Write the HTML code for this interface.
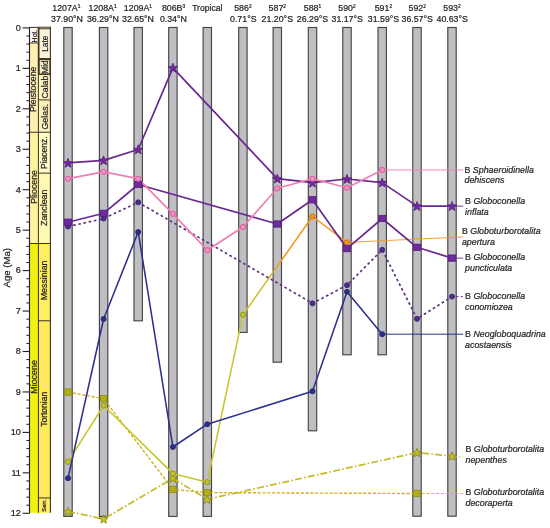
<!DOCTYPE html><html><head><meta charset="utf-8"><style>html,body{margin:0;padding:0;background:#fff}svg{display:block;will-change:transform}text{font-family:"Liberation Sans",sans-serif;fill:#231f20;stroke:#231f20;stroke-width:0.22px}</style></head><body>
<svg width="550" height="528" viewBox="0 0 550 528">
<rect width="550" height="528" fill="#ffffff"/>
<defs><linearGradient id="og" gradientUnits="userSpaceOnUse" x1="242.8" y1="314.8" x2="312.2" y2="216.5"><stop offset="0" stop-color="#c6c62a"/><stop offset="0.3" stop-color="#c6c62a"/><stop offset="0.6" stop-color="#f7941d"/><stop offset="1" stop-color="#f7941d"/></linearGradient></defs>
<rect x="29.5" y="27.40" width="8.90" height="104.86" fill="#fdf0b2"/>
<rect x="29.5" y="132.26" width="8.90" height="111.24" fill="#fff49e"/>
<rect x="29.5" y="243.50" width="8.90" height="269.30" fill="#f3f016"/>
<rect x="38.4" y="27.40" width="12.00" height="31.65" fill="#fdf3da"/>
<rect x="38.4" y="59.05" width="12.00" height="15.37" fill="#f6ecc4"/>
<rect x="38.4" y="74.42" width="12.00" height="25.48" fill="#fdf2c2"/>
<rect x="38.4" y="99.90" width="12.00" height="32.36" fill="#fdf0b8"/>
<rect x="38.4" y="132.26" width="12.00" height="40.85" fill="#fffbc6"/>
<rect x="38.4" y="173.12" width="12.00" height="70.38" fill="#fff9b4"/>
<rect x="38.4" y="243.50" width="12.00" height="77.26" fill="#ffee62"/>
<rect x="38.4" y="320.76" width="12.00" height="177.17" fill="#ffe95c"/>
<rect x="38.4" y="497.93" width="12.00" height="14.87" fill="#ffec60"/>
<rect x="29.5" y="27.4" width="8.90" height="15.6" fill="#fdf7ec" stroke="#3a3420" stroke-width="1"/>
<rect x="38.4" y="26.6" width="12.50" height="2.8" fill="#766f5a"/>
<line x1="38.4" y1="27.40" x2="38.4" y2="512.80" stroke="#3a3420" stroke-width="1"/>
<line x1="38.699999999999996" y1="27.40" x2="38.699999999999996" y2="74.30" stroke="#3a3420" stroke-width="1.6"/>
<line x1="50.4" y1="27.00" x2="50.4" y2="512.80" stroke="#3a3420" stroke-width="1.1"/>
<line x1="29.5" y1="132.26" x2="50.4" y2="132.26" stroke="#3a3420" stroke-width="1"/>
<line x1="29.5" y1="243.50" x2="50.4" y2="243.50" stroke="#3a3420" stroke-width="1"/>
<line x1="38.4" y1="99.90" x2="50.4" y2="99.90" stroke="#3a3420" stroke-width="1"/>
<line x1="38.4" y1="173.12" x2="50.4" y2="173.12" stroke="#3a3420" stroke-width="1"/>
<line x1="38.4" y1="320.76" x2="50.4" y2="320.76" stroke="#3a3420" stroke-width="1"/>
<line x1="38.4" y1="497.93" x2="50.4" y2="497.93" stroke="#3a3420" stroke-width="1"/>
<rect x="38.699999999999996" y="59.4" width="11.50" height="14.8" fill="none" stroke="#3a3420" stroke-width="1.5"/>
<line x1="38.4" y1="58.60" x2="50.4" y2="58.60" stroke="#3a3420" stroke-width="1"/>
<line x1="29.5" y1="27.4" x2="29.5" y2="513.3" stroke="#231f20" stroke-width="1.1"/>
<line x1="22.6" y1="27.90" x2="29.5" y2="27.90" stroke="#231f20" stroke-width="1.1"/>
<text x="20.9" y="30.70" font-size="9.1" text-anchor="end">0</text>
<line x1="26.3" y1="35.99" x2="29.5" y2="35.99" stroke="#231f20" stroke-width="1"/>
<line x1="26.3" y1="44.08" x2="29.5" y2="44.08" stroke="#231f20" stroke-width="1"/>
<line x1="26.3" y1="52.17" x2="29.5" y2="52.17" stroke="#231f20" stroke-width="1"/>
<line x1="26.3" y1="60.26" x2="29.5" y2="60.26" stroke="#231f20" stroke-width="1"/>
<line x1="22.6" y1="68.35" x2="29.5" y2="68.35" stroke="#231f20" stroke-width="1.1"/>
<text x="20.9" y="71.15" font-size="9.1" text-anchor="end">1</text>
<line x1="26.3" y1="76.44" x2="29.5" y2="76.44" stroke="#231f20" stroke-width="1"/>
<line x1="26.3" y1="84.53" x2="29.5" y2="84.53" stroke="#231f20" stroke-width="1"/>
<line x1="26.3" y1="92.62" x2="29.5" y2="92.62" stroke="#231f20" stroke-width="1"/>
<line x1="26.3" y1="100.71" x2="29.5" y2="100.71" stroke="#231f20" stroke-width="1"/>
<line x1="22.6" y1="108.80" x2="29.5" y2="108.80" stroke="#231f20" stroke-width="1.1"/>
<text x="20.9" y="111.60" font-size="9.1" text-anchor="end">2</text>
<line x1="26.3" y1="116.89" x2="29.5" y2="116.89" stroke="#231f20" stroke-width="1"/>
<line x1="26.3" y1="124.98" x2="29.5" y2="124.98" stroke="#231f20" stroke-width="1"/>
<line x1="26.3" y1="133.07" x2="29.5" y2="133.07" stroke="#231f20" stroke-width="1"/>
<line x1="26.3" y1="141.16" x2="29.5" y2="141.16" stroke="#231f20" stroke-width="1"/>
<line x1="22.6" y1="149.25" x2="29.5" y2="149.25" stroke="#231f20" stroke-width="1.1"/>
<text x="20.9" y="152.05" font-size="9.1" text-anchor="end">3</text>
<line x1="26.3" y1="157.34" x2="29.5" y2="157.34" stroke="#231f20" stroke-width="1"/>
<line x1="26.3" y1="165.43" x2="29.5" y2="165.43" stroke="#231f20" stroke-width="1"/>
<line x1="26.3" y1="173.52" x2="29.5" y2="173.52" stroke="#231f20" stroke-width="1"/>
<line x1="26.3" y1="181.61" x2="29.5" y2="181.61" stroke="#231f20" stroke-width="1"/>
<line x1="22.6" y1="189.70" x2="29.5" y2="189.70" stroke="#231f20" stroke-width="1.1"/>
<text x="20.9" y="192.50" font-size="9.1" text-anchor="end">4</text>
<line x1="26.3" y1="197.79" x2="29.5" y2="197.79" stroke="#231f20" stroke-width="1"/>
<line x1="26.3" y1="205.88" x2="29.5" y2="205.88" stroke="#231f20" stroke-width="1"/>
<line x1="26.3" y1="213.97" x2="29.5" y2="213.97" stroke="#231f20" stroke-width="1"/>
<line x1="26.3" y1="222.06" x2="29.5" y2="222.06" stroke="#231f20" stroke-width="1"/>
<line x1="22.6" y1="230.15" x2="29.5" y2="230.15" stroke="#231f20" stroke-width="1.1"/>
<text x="20.9" y="232.95" font-size="9.1" text-anchor="end">5</text>
<line x1="26.3" y1="238.24" x2="29.5" y2="238.24" stroke="#231f20" stroke-width="1"/>
<line x1="26.3" y1="246.33" x2="29.5" y2="246.33" stroke="#231f20" stroke-width="1"/>
<line x1="26.3" y1="254.42" x2="29.5" y2="254.42" stroke="#231f20" stroke-width="1"/>
<line x1="26.3" y1="262.51" x2="29.5" y2="262.51" stroke="#231f20" stroke-width="1"/>
<line x1="22.6" y1="270.60" x2="29.5" y2="270.60" stroke="#231f20" stroke-width="1.1"/>
<text x="20.9" y="273.40" font-size="9.1" text-anchor="end">6</text>
<line x1="26.3" y1="278.69" x2="29.5" y2="278.69" stroke="#231f20" stroke-width="1"/>
<line x1="26.3" y1="286.78" x2="29.5" y2="286.78" stroke="#231f20" stroke-width="1"/>
<line x1="26.3" y1="294.87" x2="29.5" y2="294.87" stroke="#231f20" stroke-width="1"/>
<line x1="26.3" y1="302.96" x2="29.5" y2="302.96" stroke="#231f20" stroke-width="1"/>
<line x1="22.6" y1="311.05" x2="29.5" y2="311.05" stroke="#231f20" stroke-width="1.1"/>
<text x="20.9" y="313.85" font-size="9.1" text-anchor="end">7</text>
<line x1="26.3" y1="319.14" x2="29.5" y2="319.14" stroke="#231f20" stroke-width="1"/>
<line x1="26.3" y1="327.23" x2="29.5" y2="327.23" stroke="#231f20" stroke-width="1"/>
<line x1="26.3" y1="335.32" x2="29.5" y2="335.32" stroke="#231f20" stroke-width="1"/>
<line x1="26.3" y1="343.41" x2="29.5" y2="343.41" stroke="#231f20" stroke-width="1"/>
<line x1="22.6" y1="351.50" x2="29.5" y2="351.50" stroke="#231f20" stroke-width="1.1"/>
<text x="20.9" y="354.30" font-size="9.1" text-anchor="end">8</text>
<line x1="26.3" y1="359.59" x2="29.5" y2="359.59" stroke="#231f20" stroke-width="1"/>
<line x1="26.3" y1="367.68" x2="29.5" y2="367.68" stroke="#231f20" stroke-width="1"/>
<line x1="26.3" y1="375.77" x2="29.5" y2="375.77" stroke="#231f20" stroke-width="1"/>
<line x1="26.3" y1="383.86" x2="29.5" y2="383.86" stroke="#231f20" stroke-width="1"/>
<line x1="22.6" y1="391.95" x2="29.5" y2="391.95" stroke="#231f20" stroke-width="1.1"/>
<text x="20.9" y="394.75" font-size="9.1" text-anchor="end">9</text>
<line x1="26.3" y1="400.04" x2="29.5" y2="400.04" stroke="#231f20" stroke-width="1"/>
<line x1="26.3" y1="408.13" x2="29.5" y2="408.13" stroke="#231f20" stroke-width="1"/>
<line x1="26.3" y1="416.22" x2="29.5" y2="416.22" stroke="#231f20" stroke-width="1"/>
<line x1="26.3" y1="424.31" x2="29.5" y2="424.31" stroke="#231f20" stroke-width="1"/>
<line x1="22.6" y1="432.40" x2="29.5" y2="432.40" stroke="#231f20" stroke-width="1.1"/>
<text x="20.9" y="435.20" font-size="9.1" text-anchor="end">10</text>
<line x1="26.3" y1="440.49" x2="29.5" y2="440.49" stroke="#231f20" stroke-width="1"/>
<line x1="26.3" y1="448.58" x2="29.5" y2="448.58" stroke="#231f20" stroke-width="1"/>
<line x1="26.3" y1="456.67" x2="29.5" y2="456.67" stroke="#231f20" stroke-width="1"/>
<line x1="26.3" y1="464.76" x2="29.5" y2="464.76" stroke="#231f20" stroke-width="1"/>
<line x1="22.6" y1="472.85" x2="29.5" y2="472.85" stroke="#231f20" stroke-width="1.1"/>
<text x="20.9" y="475.65" font-size="9.1" text-anchor="end">11</text>
<line x1="26.3" y1="480.94" x2="29.5" y2="480.94" stroke="#231f20" stroke-width="1"/>
<line x1="26.3" y1="489.03" x2="29.5" y2="489.03" stroke="#231f20" stroke-width="1"/>
<line x1="26.3" y1="497.12" x2="29.5" y2="497.12" stroke="#231f20" stroke-width="1"/>
<line x1="26.3" y1="505.21" x2="29.5" y2="505.21" stroke="#231f20" stroke-width="1"/>
<line x1="22.6" y1="513.30" x2="29.5" y2="513.30" stroke="#231f20" stroke-width="1.1"/>
<text x="20.9" y="516.10" font-size="9.1" text-anchor="end">12</text>
<text transform="translate(10.3,267.7) rotate(-90)" font-size="9.6" text-anchor="middle">Age (Ma)</text>
<text transform="translate(36.40,89.28) rotate(-90)" font-size="8.8" text-anchor="middle">Pleistocene</text>
<text transform="translate(36.90,186.88) rotate(-90)" font-size="8.8" text-anchor="middle">Pliocene</text>
<text transform="translate(36.50,376.95) rotate(-90)" font-size="8.9" text-anchor="middle">Miocene</text>
<text transform="translate(36.80,36.20) rotate(-90)" font-size="7.0" text-anchor="middle">Hol.</text>
<text transform="translate(47.70,43.70) rotate(-90)" font-size="8.3" text-anchor="middle">Late</text>
<text transform="translate(47.70,67.10) rotate(-90)" font-size="8.2" text-anchor="middle">Mid</text>
<text transform="translate(47.80,87.10) rotate(-90)" font-size="8.7" text-anchor="middle">Calab</text>
<text transform="translate(47.70,116.78) rotate(-90)" font-size="8.9" text-anchor="middle">Gelas.</text>
<text transform="translate(47.40,152.69) rotate(-90)" font-size="8.5" text-anchor="middle">Piacenz.</text>
<text transform="translate(47.40,207.81) rotate(-90)" font-size="8.85" text-anchor="middle">Zanclean</text>
<text transform="translate(47.40,280.40) rotate(-90)" font-size="8.85" text-anchor="middle">Messinian</text>
<text transform="translate(47.40,409.34) rotate(-90)" font-size="8.5" text-anchor="middle">Tortonian</text>
<text transform="translate(46.20,505.60) rotate(-90)" font-size="5.8" text-anchor="middle">Serr.</text>
<rect x="63.80" y="27.5" width="8.4" height="488.90" fill="#bfbfc3" stroke="#454547" stroke-width="1.15"/>
<rect x="99.40" y="27.5" width="8.4" height="488.90" fill="#bfbfc3" stroke="#454547" stroke-width="1.15"/>
<rect x="134.00" y="27.5" width="8.4" height="293.30" fill="#bfbfc3" stroke="#454547" stroke-width="1.15"/>
<rect x="168.70" y="27.5" width="8.4" height="488.90" fill="#bfbfc3" stroke="#454547" stroke-width="1.15"/>
<rect x="203.10" y="27.5" width="8.4" height="488.90" fill="#bfbfc3" stroke="#454547" stroke-width="1.15"/>
<rect x="238.70" y="27.5" width="8.4" height="304.90" fill="#bfbfc3" stroke="#454547" stroke-width="1.15"/>
<rect x="273.10" y="27.5" width="8.4" height="334.70" fill="#bfbfc3" stroke="#454547" stroke-width="1.15"/>
<rect x="308.30" y="27.5" width="8.4" height="403.30" fill="#bfbfc3" stroke="#454547" stroke-width="1.15"/>
<rect x="342.80" y="27.5" width="8.4" height="327.30" fill="#bfbfc3" stroke="#454547" stroke-width="1.15"/>
<rect x="378.00" y="27.5" width="8.4" height="327.30" fill="#bfbfc3" stroke="#454547" stroke-width="1.15"/>
<rect x="412.80" y="27.5" width="8.4" height="488.70" fill="#bfbfc3" stroke="#454547" stroke-width="1.15"/>
<rect x="447.80" y="27.5" width="8.4" height="488.70" fill="#bfbfc3" stroke="#454547" stroke-width="1.15"/>
<text x="66.30" y="11.4" font-size="8.8" text-anchor="middle">1207A<tspan font-size="4.8" dy="-3.2">1</tspan></text>
<text x="67.00" y="22.2" font-size="8.8" text-anchor="middle">37.90°N</text>
<text x="102.60" y="11.4" font-size="8.8" text-anchor="middle">1208A<tspan font-size="4.8" dy="-3.2">1</tspan></text>
<text x="102.90" y="22.2" font-size="8.8" text-anchor="middle">36.29°N</text>
<text x="137.90" y="11.4" font-size="8.8" text-anchor="middle">1209A<tspan font-size="4.8" dy="-3.2">1</tspan></text>
<text x="138.00" y="22.2" font-size="8.8" text-anchor="middle">32.65°N</text>
<text x="173.50" y="11.4" font-size="8.8" text-anchor="middle">806B<tspan font-size="4.8" dy="-3.2">3</tspan></text>
<text x="173.40" y="22.2" font-size="8.8" text-anchor="middle">0.34°N</text>
<text x="207.30" y="11.4" font-size="8.6" text-anchor="middle">Tropical</text>
<text x="242.90" y="11.4" font-size="8.8" text-anchor="middle">586<tspan font-size="4.8" dy="-3.2">2</tspan></text>
<text x="243.30" y="22.2" font-size="8.8" text-anchor="middle">0.71°S</text>
<text x="277.30" y="11.4" font-size="8.8" text-anchor="middle">587<tspan font-size="4.8" dy="-3.2">2</tspan></text>
<text x="277.30" y="22.2" font-size="8.8" text-anchor="middle">21.20°S</text>
<text x="312.50" y="11.4" font-size="8.8" text-anchor="middle">588<tspan font-size="4.8" dy="-3.2">1</tspan></text>
<text x="312.50" y="22.2" font-size="8.8" text-anchor="middle">26.29°S</text>
<text x="347.00" y="11.4" font-size="8.8" text-anchor="middle">590<tspan font-size="4.8" dy="-3.2">2</tspan></text>
<text x="347.20" y="22.2" font-size="8.8" text-anchor="middle">31.17°S</text>
<text x="383.40" y="11.4" font-size="8.8" text-anchor="middle">591<tspan font-size="4.8" dy="-3.2">2</tspan></text>
<text x="383.50" y="22.2" font-size="8.8" text-anchor="middle">31.59°S</text>
<text x="417.20" y="11.4" font-size="8.8" text-anchor="middle">592<tspan font-size="4.8" dy="-3.2">2</tspan></text>
<text x="417.20" y="22.2" font-size="8.8" text-anchor="middle">36.57°S</text>
<text x="452.00" y="11.4" font-size="8.8" text-anchor="middle">593<tspan font-size="4.8" dy="-3.2">2</tspan></text>
<text x="452.20" y="22.2" font-size="8.8" text-anchor="middle">40.63°S</text>
<polyline points="68.0,392.1 103.6,398.7 172.9,489.4 207.3,492.6 417.0,493.5" fill="none" stroke="#d3b026" stroke-width="1.4" stroke-linejoin="round" stroke-dasharray="3.2 1.6"/>
<polyline points="417.0,493.5 463.2,493.5" fill="none" stroke="#d3b026" stroke-width="0.9" stroke-linejoin="round" stroke-dasharray="3 1.8"/>
<polyline points="68.0,511.5 103.6,519.0 172.9,478.3 207.3,499.3 417.0,452.6 452.0,456.1" fill="none" stroke="#c9b925" stroke-width="1.7" stroke-linejoin="round" stroke-dasharray="7 2.2 1.6 2.2"/>
<polyline points="452.0,456.1 463.2,457.3" fill="none" stroke="#c9b925" stroke-width="0.9" stroke-linejoin="round" stroke-dasharray="5 2 1.5 2"/>
<polyline points="68.0,461.8 103.6,405.5 172.9,473.6 207.3,482.2 242.9,314.8" fill="none" stroke="#c6c62a" stroke-width="1.55" stroke-linejoin="round"/>
<line x1="242.9" y1="314.8" x2="312.5" y2="216.5" stroke="url(#og)" stroke-width="1.55"/>
<polyline points="312.5,216.5 347.0,242.4" fill="none" stroke="#f7941d" stroke-width="1.55" stroke-linejoin="round"/>
<polyline points="347.0,242.4 463.2,236.9" fill="none" stroke="#f7941d" stroke-width="0.9" stroke-linejoin="round"/>
<polyline points="68.0,478.2 103.6,319.0 138.2,232.0 172.9,447.0 207.3,424.2 312.5,391.3 347.0,291.8 382.2,334.2" fill="none" stroke="#2b2f8f" stroke-width="1.55" stroke-linejoin="round"/>
<polyline points="382.2,334.2 463.2,334.2" fill="none" stroke="#2b2f8f" stroke-width="1.0" stroke-linejoin="round"/>
<polyline points="68.0,226.6 103.6,218.6 138.2,202.3 312.5,303.3 347.0,285.2 382.2,249.8 417.0,318.8 452.0,296.6" fill="none" stroke="#5d2f82" stroke-width="1.7" stroke-linejoin="round" stroke-dasharray="2.6 2.7"/>
<polyline points="452.0,296.6 463.2,296.6" fill="none" stroke="#5d2f82" stroke-width="1.0" stroke-linejoin="round" stroke-dasharray="2 2.4"/>
<polyline points="68.0,222.2 103.6,213.3 138.2,184.5 277.3,224.0 312.5,199.8 347.0,248.6 382.2,218.5 417.0,247.3 452.0,258.1" fill="none" stroke="#6a2790" stroke-width="1.7" stroke-linejoin="round"/>
<polyline points="452.0,258.1 463.2,258.1" fill="none" stroke="#6a2790" stroke-width="0.9" stroke-linejoin="round"/>
<polyline points="68.0,162.9 103.6,160.4 138.2,149.5 172.9,67.8 277.3,178.7 312.5,182.7 347.0,179.0 382.2,182.6 417.0,206.1 452.0,206.1" fill="none" stroke="#6a2790" stroke-width="1.7" stroke-linejoin="round"/>
<polyline points="452.0,206.1 463.2,206.1" fill="none" stroke="#6a2790" stroke-width="0.9" stroke-linejoin="round"/>
<polyline points="68.0,178.7 103.6,171.8 138.2,178.7 172.9,213.8 207.3,250.2 242.9,227.0 277.3,188.3 312.5,178.7 347.0,187.8 382.2,169.9" fill="none" stroke="#f27db2" stroke-width="1.7" stroke-linejoin="round"/>
<polyline points="382.2,169.9 463.2,169.9" fill="none" stroke="#f27db2" stroke-width="0.9" stroke-linejoin="round"/>
<polygon points="68.00,507.20 69.18,510.28 72.47,510.45 69.90,512.52 70.76,515.70 68.00,513.90 65.24,515.70 66.10,512.52 63.53,510.45 66.82,510.28" fill="#c2c222" stroke="#85850f" stroke-width="0.8" stroke-linejoin="miter"/>
<polygon points="103.60,514.70 104.78,517.78 108.07,517.95 105.50,520.02 106.36,523.20 103.60,521.40 100.84,523.20 101.70,520.02 99.13,517.95 102.42,517.78" fill="#c2c222" stroke="#85850f" stroke-width="0.8" stroke-linejoin="miter"/>
<polygon points="172.90,474.00 174.08,477.08 177.37,477.25 174.80,479.32 175.66,482.50 172.90,480.70 170.14,482.50 171.00,479.32 168.43,477.25 171.72,477.08" fill="#c2c222" stroke="#85850f" stroke-width="0.8" stroke-linejoin="miter"/>
<polygon points="207.30,495.00 208.48,498.08 211.77,498.25 209.20,500.32 210.06,503.50 207.30,501.70 204.54,503.50 205.40,500.32 202.83,498.25 206.12,498.08" fill="#c2c222" stroke="#85850f" stroke-width="0.8" stroke-linejoin="miter"/>
<polygon points="417.00,448.30 418.18,451.38 421.47,451.55 418.90,453.62 419.76,456.80 417.00,455.00 414.24,456.80 415.10,453.62 412.53,451.55 415.82,451.38" fill="#c2c222" stroke="#85850f" stroke-width="0.8" stroke-linejoin="miter"/>
<polygon points="452.00,451.80 453.18,454.88 456.47,455.05 453.90,457.12 454.76,460.30 452.00,458.50 449.24,460.30 450.10,457.12 447.53,455.05 450.82,454.88" fill="#c2c222" stroke="#85850f" stroke-width="0.8" stroke-linejoin="miter"/>
<rect x="64.80" y="388.90" width="6.4" height="6.4" fill="#b4b012" stroke="#8c8c0e" stroke-width="0.8"/>
<rect x="100.40" y="395.50" width="6.4" height="6.4" fill="#b4b012" stroke="#8c8c0e" stroke-width="0.8"/>
<rect x="169.70" y="486.20" width="6.4" height="6.4" fill="#b4b012" stroke="#8c8c0e" stroke-width="0.8"/>
<rect x="204.10" y="489.40" width="6.4" height="6.4" fill="#b4b012" stroke="#8c8c0e" stroke-width="0.8"/>
<rect x="413.80" y="490.30" width="6.4" height="6.4" fill="#b4b012" stroke="#8c8c0e" stroke-width="0.8"/>
<circle cx="68.00" cy="461.80" r="2.6" fill="#c4c42a" stroke="#8f8f14" stroke-width="0.9"/>
<circle cx="103.60" cy="405.50" r="2.6" fill="#c4c42a" stroke="#8f8f14" stroke-width="0.9"/>
<circle cx="172.90" cy="473.60" r="2.6" fill="#c4c42a" stroke="#8f8f14" stroke-width="0.9"/>
<circle cx="207.30" cy="482.20" r="2.6" fill="#c4c42a" stroke="#8f8f14" stroke-width="0.9"/>
<circle cx="242.90" cy="314.80" r="2.6" fill="#c4c42a" stroke="#8f8f14" stroke-width="0.9"/>
<circle cx="68.00" cy="478.20" r="2.5" fill="#2b2f8f" stroke="#1f2270" stroke-width="0.9"/>
<circle cx="103.60" cy="319.00" r="2.5" fill="#2b2f8f" stroke="#1f2270" stroke-width="0.9"/>
<circle cx="138.20" cy="232.00" r="2.5" fill="#2b2f8f" stroke="#1f2270" stroke-width="0.9"/>
<circle cx="172.90" cy="447.00" r="2.5" fill="#2b2f8f" stroke="#1f2270" stroke-width="0.9"/>
<circle cx="207.30" cy="424.20" r="2.5" fill="#2b2f8f" stroke="#1f2270" stroke-width="0.9"/>
<circle cx="312.50" cy="391.30" r="2.5" fill="#2b2f8f" stroke="#1f2270" stroke-width="0.9"/>
<circle cx="347.00" cy="291.80" r="2.5" fill="#2b2f8f" stroke="#1f2270" stroke-width="0.9"/>
<circle cx="382.20" cy="334.20" r="2.5" fill="#2b2f8f" stroke="#1f2270" stroke-width="0.9"/>
<circle cx="68.00" cy="226.60" r="2.5" fill="#4f2d8c" stroke="#3d2374" stroke-width="0.9"/>
<circle cx="103.60" cy="218.60" r="2.5" fill="#4f2d8c" stroke="#3d2374" stroke-width="0.9"/>
<circle cx="138.20" cy="202.30" r="2.5" fill="#4f2d8c" stroke="#3d2374" stroke-width="0.9"/>
<circle cx="312.50" cy="303.30" r="2.5" fill="#4f2d8c" stroke="#3d2374" stroke-width="0.9"/>
<circle cx="347.00" cy="285.20" r="2.5" fill="#4f2d8c" stroke="#3d2374" stroke-width="0.9"/>
<circle cx="382.20" cy="249.80" r="2.5" fill="#4f2d8c" stroke="#3d2374" stroke-width="0.9"/>
<circle cx="417.00" cy="318.80" r="2.5" fill="#4f2d8c" stroke="#3d2374" stroke-width="0.9"/>
<circle cx="452.00" cy="296.60" r="2.5" fill="#4f2d8c" stroke="#3d2374" stroke-width="0.9"/>
<polygon points="68.00,158.30 69.23,161.60 72.76,161.75 70.00,163.95 70.94,167.35 68.00,165.40 65.06,167.35 66.00,163.95 63.24,161.75 66.77,161.60" fill="#7429a2" stroke="#551d7c" stroke-width="0.8" stroke-linejoin="miter"/>
<polygon points="103.60,155.80 104.83,159.10 108.36,159.25 105.60,161.45 106.54,164.85 103.60,162.90 100.66,164.85 101.60,161.45 98.84,159.25 102.37,159.10" fill="#7429a2" stroke="#551d7c" stroke-width="0.8" stroke-linejoin="miter"/>
<polygon points="138.20,144.90 139.43,148.20 142.96,148.35 140.20,150.55 141.14,153.95 138.20,152.00 135.26,153.95 136.20,150.55 133.44,148.35 136.97,148.20" fill="#7429a2" stroke="#551d7c" stroke-width="0.8" stroke-linejoin="miter"/>
<polygon points="172.90,63.20 174.13,66.50 177.66,66.65 174.90,68.85 175.84,72.25 172.90,70.30 169.96,72.25 170.90,68.85 168.14,66.65 171.67,66.50" fill="#7429a2" stroke="#551d7c" stroke-width="0.8" stroke-linejoin="miter"/>
<polygon points="277.30,174.10 278.53,177.40 282.06,177.55 279.30,179.75 280.24,183.15 277.30,181.20 274.36,183.15 275.30,179.75 272.54,177.55 276.07,177.40" fill="#7429a2" stroke="#551d7c" stroke-width="0.8" stroke-linejoin="miter"/>
<polygon points="312.50,178.10 313.73,181.40 317.26,181.55 314.50,183.75 315.44,187.15 312.50,185.20 309.56,187.15 310.50,183.75 307.74,181.55 311.27,181.40" fill="#7429a2" stroke="#551d7c" stroke-width="0.8" stroke-linejoin="miter"/>
<polygon points="347.00,174.40 348.23,177.70 351.76,177.85 349.00,180.05 349.94,183.45 347.00,181.50 344.06,183.45 345.00,180.05 342.24,177.85 345.77,177.70" fill="#7429a2" stroke="#551d7c" stroke-width="0.8" stroke-linejoin="miter"/>
<polygon points="382.20,178.00 383.43,181.30 386.96,181.45 384.20,183.65 385.14,187.05 382.20,185.10 379.26,187.05 380.20,183.65 377.44,181.45 380.97,181.30" fill="#7429a2" stroke="#551d7c" stroke-width="0.8" stroke-linejoin="miter"/>
<polygon points="417.00,201.50 418.23,204.80 421.76,204.95 419.00,207.15 419.94,210.55 417.00,208.60 414.06,210.55 415.00,207.15 412.24,204.95 415.77,204.80" fill="#7429a2" stroke="#551d7c" stroke-width="0.8" stroke-linejoin="miter"/>
<polygon points="452.00,201.50 453.23,204.80 456.76,204.95 454.00,207.15 454.94,210.55 452.00,208.60 449.06,210.55 450.00,207.15 447.24,204.95 450.77,204.80" fill="#7429a2" stroke="#551d7c" stroke-width="0.8" stroke-linejoin="miter"/>
<rect x="64.50" y="219.05" width="7.0" height="6.3" fill="#7129a0" stroke="#551d7c" stroke-width="0.8"/>
<rect x="100.10" y="210.15" width="7.0" height="6.3" fill="#7129a0" stroke="#551d7c" stroke-width="0.8"/>
<rect x="134.70" y="181.35" width="7.0" height="6.3" fill="#7129a0" stroke="#551d7c" stroke-width="0.8"/>
<rect x="273.80" y="220.85" width="7.0" height="6.3" fill="#7129a0" stroke="#551d7c" stroke-width="0.8"/>
<rect x="309.00" y="196.65" width="7.0" height="6.3" fill="#7129a0" stroke="#551d7c" stroke-width="0.8"/>
<rect x="343.50" y="245.45" width="7.0" height="6.3" fill="#7129a0" stroke="#551d7c" stroke-width="0.8"/>
<rect x="378.70" y="215.35" width="7.0" height="6.3" fill="#7129a0" stroke="#551d7c" stroke-width="0.8"/>
<rect x="413.50" y="244.15" width="7.0" height="6.3" fill="#7129a0" stroke="#551d7c" stroke-width="0.8"/>
<rect x="448.50" y="254.95" width="7.0" height="6.3" fill="#7129a0" stroke="#551d7c" stroke-width="0.8"/>
<circle cx="312.50" cy="216.50" r="2.6" fill="#f7941d" stroke="#c8700f" stroke-width="0.9"/>
<circle cx="347.00" cy="242.40" r="2.6" fill="#f7941d" stroke="#c8700f" stroke-width="0.9"/>
<circle cx="68.00" cy="178.70" r="2.6" fill="#f591c1" stroke="#df4f98" stroke-width="0.9"/>
<circle cx="103.60" cy="171.80" r="2.6" fill="#f591c1" stroke="#df4f98" stroke-width="0.9"/>
<circle cx="138.20" cy="178.70" r="2.6" fill="#f591c1" stroke="#df4f98" stroke-width="0.9"/>
<circle cx="172.90" cy="213.80" r="2.6" fill="#f591c1" stroke="#df4f98" stroke-width="0.9"/>
<circle cx="207.30" cy="250.20" r="2.6" fill="#f591c1" stroke="#df4f98" stroke-width="0.9"/>
<circle cx="242.90" cy="227.00" r="2.6" fill="#f591c1" stroke="#df4f98" stroke-width="0.9"/>
<circle cx="277.30" cy="188.30" r="2.6" fill="#f591c1" stroke="#df4f98" stroke-width="0.9"/>
<circle cx="312.50" cy="178.70" r="2.6" fill="#f591c1" stroke="#df4f98" stroke-width="0.9"/>
<circle cx="347.00" cy="187.80" r="2.6" fill="#f591c1" stroke="#df4f98" stroke-width="0.9"/>
<circle cx="382.20" cy="169.90" r="2.6" fill="#f591c1" stroke="#df4f98" stroke-width="0.9"/>
<text x="464.5" y="172.5" font-size="8.85">B <tspan font-style="italic">Sphaeroidinella</tspan></text>
<text x="464.5" y="183.0" font-size="8.85" font-style="italic">dehiscens</text>
<text x="465.1" y="204.1" font-size="8.85">B <tspan font-style="italic">Globoconella</tspan></text>
<text x="465.1" y="215.2" font-size="8.85" font-style="italic">inflata</text>
<text x="461.90000000000003" y="233.7" font-size="8.85">B <tspan font-style="italic">Globoturborotalita</tspan></text>
<text x="461.90000000000003" y="244.8" font-size="8.85" font-style="italic">apertura</text>
<text x="465.1" y="259.5" font-size="8.85">B <tspan font-style="italic">Globoconella</tspan></text>
<text x="465.1" y="270.6" font-size="8.85" font-style="italic">puncticulata</text>
<text x="465.1" y="298.9" font-size="8.85">B <tspan font-style="italic">Globoconella</tspan></text>
<text x="465.1" y="310.0" font-size="8.85" font-style="italic">conomiozea</text>
<text x="465.1" y="336.8" font-size="8.85">B <tspan font-style="italic">Neogloboquadrina</tspan></text>
<text x="465.1" y="347.9" font-size="8.85" font-style="italic">acostaensis</text>
<text x="465.5" y="451.9" font-size="8.85">B <tspan font-style="italic">Globoturborotalita</tspan></text>
<text x="465.5" y="463.0" font-size="8.85" font-style="italic">nepenthes</text>
<text x="465.5" y="494.7" font-size="8.85">B <tspan font-style="italic">Globoturborotalita</tspan></text>
<text x="465.5" y="505.8" font-size="8.85" font-style="italic">decoraperta</text>
</svg></body></html>
